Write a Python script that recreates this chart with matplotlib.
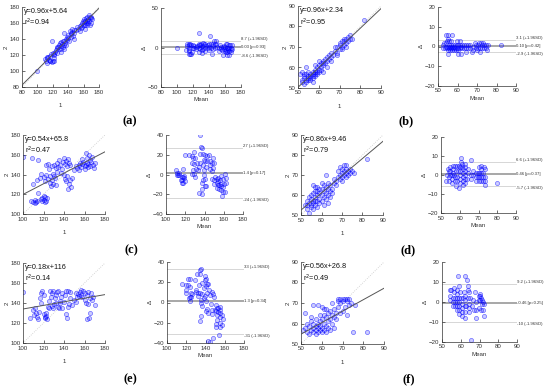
import numpy as np
import matplotlib
matplotlib.use("Agg")
import matplotlib.pyplot as plt

plt.rcParams["font.family"] = ["Liberation Sans", "DejaVu Sans"]

# ---------------- data (method 1, method 2) ----------------
pts_a = [(100,100),(110,115),(111,113),(112,117),(113,116),(114,118),(115,114),(116,119),(117,113),
         (118,121),(119,111),(120,112),(121,113),(119,137),(120,122),(121,120),(122,121),(123,124),
         (124,126),(125,123),(126,129),(127,130),(128,127),(128,133),(129,135),(130,131),(130,128),
         (131,136),(132,134),(133,130),(133,138),(134,148),(134,132),(135,137),(136,135),(137,133),
         (137,140),(138,142),(139,139),(140,145),(140,141),(141,138),(142,150),(143,147),(143,143),
         (144,146),(145,153),(145,149),(146,144),(147,151),(148,148),(150,151),(152,155),(153,152),
         (155,156),(156,154),(157,158),(158,160),(158,155),(159,163),(160,158),(160,161),(161,165),
         (162,157),(162,162),(163,166),(163,160),(164,158),(164,164),(165,162),(165,168),(166,165),
         (166,160),(167,170),(167,163),(168,167),(169,166),(170,168),(170,160),(171,165),(168,158),
         (162,152),(155,150),(148,140),(135,128),(130,124),(125,130),(122,116),(116,113),(113,110)]
pts_b = [(51,57),(52,58),(52,53),(52,54),(53,52),(53,56),(53,55),(54,54),(54,57),(54,53),(55,55),
         (55,56),(55,54),(56,55),(56,57),(56,56),(56,54),(57,56),(57,58),(57,55),(57,57),(58,57),
         (58,59),(58,56),(58,58),(59,58),(59,60),(59,57),(60,59),(60,61),(60,58),(61,60),(61,62),
         (61,59),(62,62),(62,61),(62,63),(63,62),(63,64),(64,63),(64,65),(65,64),(65,66),(66,65),
         (66,67),(67,66),(68,68),(68,70),(69,67),(69,70),(70,69),(70,71),(70,72),(71,70),(71,73),
         (71,69),(72,71),(72,73),(72,74),(73,72),(73,74),(74,73),(74,75),(75,74),(76,74),(75,76),
         (82,83),(60,63),(58,61),(55,58),(54,60),(53,57),(62,58),(64,60),(57,53),(66,63),(69,66),(73,70)]
pts_c = [(100,158),(109,157),(115,155),(108,113),(110,112),(112,111),(113,112),(114,113),(112,114),
         (118,115),(119,116),(120,114),(121,117),(122,113),(120,118),(121,112),(123,116),(119,113),
         (115,121),(110,130),(114,134),(117,136),(118,141),(120,137),(121,133),(122,139),(124,135),
         (126,138),(126,131),(127,128),(128,134),(129,130),(130,138),(129,141),(131,136),(132,129),
         (125,146),(128,149),(130,150),(132,147),(133,152),(134,148),(135,155),(136,150),(138,146),
         (139,153),(140,157),(141,151),(142,154),(143,149),(144,156),(145,152),(146,150),(137,142),
         (133,143),(140,139),(141,135),(142,133),(143,138),(145,130),(146,134),(147,127),(144,125),
         (148,136),(150,145),(152,149),(153,147),(155,150),(156,152),(157,148),(158,151),(159,153),
         (160,149),(160,146),(161,150),(162,152),(162,157),(163,148),(163,151),(164,160),(165,155),
         (165,149),(166,153),(167,158),(168,150),(169,147),(170,152),(161,162),(158,156),(155,145),
         (122,150),(124,151)]
pts_d = [(52,55),(53,53),(53,57),(54,51),(54,56),(54,59),(55,54),(55,58),(55,60),(56,53),(56,57),
         (56,61),(57,55),(57,59),(57,62),(58,54),(58,57),(58,60),(58,64),(59,56),(59,61),(59,58),
         (60,57),(60,60),(60,63),(60,66),(61,55),(61,59),(61,62),(62,58),(62,61),(62,70),(63,56),
         (63,60),(63,63),(64,59),(64,62),(64,65),(65,61),(66,66),(66,68),(67,67),(67,65),(68,69),
         (68,72),(69,70),(69,74),(69,68),(70,71),(70,73),(70,69),(71,72),(71,75),(71,70),(72,71),
         (72,73),(72,69),(73,72),(73,70),(74,71),(74,73),(75,72),(76,71),(82,78),(55,55),(56,56),
         (53,55),(59,63),(61,65),(57,57),(62,64),(58,62),(65,63),(63,66),(70,67),(72,75),(56,65),(57,64)]
pts_e = [(100,151),(107,125),(110,133),(111,128),(112,135),(113,130),(114,126),(115,124),(116,131),
         (117,145),(118,150),(119,152),(120,148),(118,140),(120,129),(121,125),(122,127),(123,124),
         (121,126),(122,130),(124,136),(125,142),(127,146),(128,150),(129,152),(128,137),(129,135),
         (130,139),(131,145),(132,148),(133,151),(134,136),(135,135),(136,140),(137,146),(138,150),
         (138,135),(140,141),(141,148),(142,152),(142,129),(143,125),(144,136),(145,139),(146,145),
         (146,151),(148,138),(150,143),(152,141),(153,146),(154,149),(155,147),(156,151),(157,153),
         (158,146),(159,152),(160,143),(160,150),(161,140),(162,148),(163,151),(163,139),(164,125),
         (165,130),(165,145),(166,150),(167,143),(168,146),(170,138),(162,124),(126,152),(134,152),
         (144,152),(152,150),(157,148),(136,142),(132,140),(125,135)]
pts_f = [(52,65),(51,57),(52,58),(53,56),(54,55),(54,59),(55,57),(55,61),(56,56),(56,58),(56,60),
         (57,55),(57,57),(57,59),(57,62),(58,56),(58,58),(58,60),(58,69),(59,57),(59,59),(59,61),
         (60,56),(60,58),(60,62),(60,68),(61,57),(61,60),(61,64),(62,56),(62,59),(62,63),(62,67),
         (63,58),(63,61),(63,65),(64,57),(64,62),(64,66),(65,60),(65,64),(65,70),(66,63),(66,67),
         (67,65),(67,62),(68,68),(68,71),(68,72),(69,72),(69,70),(70,72),(70,71),(70,66),(71,72),
         (71,68),(72,72),(72,71),(73,72),(73,69),(74,70),(75,56),(82,56),(56,69),(55,63),(53,60),
         (59,64),(61,67),(66,58),(69,65),(72,64),(76,69)]

panel_names = ["(a)", "(b)", "(c)", "(d)", "(e)", "(f)"]
panel_points = [pts_a, pts_b, pts_c, pts_d, pts_e, pts_f]
fit_slope = [0.96, 0.96, 0.54, 0.86, 0.18, 0.56]
fit_intercept = [5.64, 2.34, 65.8, 9.46, 116, 26.8]
fit_text = ["y=0.96x+5.64", "y=0.96x+2.34", "y=0.54x+65.8", "y=0.86x+9.46", "y=0.18x+116", "y=0.56x+26.8"]
r2_text = ["0.94", "0.95", "0.47", "0.79", "0.14", "0.49"]
ba_upper = [8.7, 3.1, 27, 6.6, 33, 9.2]
ba_mean = [0.03, 0.10, 1.4, 0.46, 1.3, -0.46]
ba_lower = [-8.6, -2.9, -24, -5.7, -31, -10]
ba_upper_txt = ["8.7 (+1.96SD)", "3.1 (+1.96SD)", "27 (+1.96SD)", "6.6 (+1.96SD)", "33 (+1.96SD)", "9.2 (+1.96SD)"]
ba_mean_txt = ["0.03 [p=0.93]", "0.10 [p=0.42]", "1.4 [p=0.17]", "0.46 [p=0.37]", "1.3 [p=0.34]", "-0.46 [p=0.25]"]
ba_lower_txt = ["-8.6 (-1.96SD)", "-2.9 (-1.96SD)", "-24 (-1.96SD)", "-5.7 (-1.96SD)", "-31 (-1.96SD)", "-10 (-1.96SD)"]
sc_ticks = [[80,100,120,140,160,180], [50,60,70,80,90], [100,120,140,160,180],
            [50,60,70,80,90], [100,120,140,160,180], [50,60,70,80,90]]
ba_yticks = [[-50,0,50], [-20,-10,0,10,20], [-40,-20,0,20,40],
             [-20,-10,0,10,20], [-40,-20,0,20,40], [-20,-10,0,10,20]]

# ---------------- layout ----------------
W, H = 550, 388
def rect(x0, x1, y0, y1):
    return [x0 / W, 1 - y1 / H, (x1 - x0) / W, (y1 - y0) / H]

sc_rects = [rect(22, 99, 7, 87), rect(298, 381, 6, 88), rect(23, 105, 135, 214),
            rect(301, 383, 135, 215), rect(23, 105, 263, 343), rect(301, 384, 262, 344)]
ba_rects = [rect(161, 241, 8, 87), rect(438, 516, 7, 86), rect(166, 243, 135, 214),
            rect(441, 516, 137, 213), rect(167, 244, 262, 343), rect(442, 517, 262, 342)]
label_pos = [(130, 121), (406, 121), (131, 250), (408, 250), (130, 379), (409, 379)]

fig = plt.figure(figsize=(5.5, 3.88), dpi=100)
fig.patch.set_facecolor("white")

AX_COL = "#333333"
TICK_FS = 4.4
BLUE_FACE = (0, 0, 1, 0.2)
BLUE_EDGE = (0, 0, 1, 0.55)

def style(ax):
    for s in ["top", "right"]:
        ax.spines[s].set_visible(False)
    for s in ["left", "bottom"]:
        ax.spines[s].set_color(AX_COL)
        ax.spines[s].set_linewidth(0.5)
    ax.tick_params(direction="in", length=2, width=0.5, colors=AX_COL,
                   labelsize=TICK_FS, pad=1.8)

for i in range(6):
    pts = np.array(panel_points[i], dtype=float)
    m1, m2 = pts[:, 0], pts[:, 1]
    ticks = sc_ticks[i]
    lo, hi = ticks[0], ticks[-1]

    # scatter / correlation plot
    ax = fig.add_axes(sc_rects[i])
    style(ax)
    ax.plot([lo, hi], [lo, hi], ls=":", color="#c8c8c8", lw=0.6, zorder=1)
    ax.scatter(m1, m2, s=9, facecolors=BLUE_FACE, edgecolors=BLUE_EDGE, linewidths=0.5, zorder=2)
    xx = np.array([lo, hi], dtype=float)
    ax.plot(xx, fit_slope[i] * xx + fit_intercept[i], color="#555555", lw=0.7, zorder=3)
    ax.set_xlim(lo, hi)
    ax.set_ylim(lo, hi)
    ax.set_xticks(ticks)
    ax.set_yticks(ticks)
    ax.set_xlabel("1", fontsize=TICK_FS, color=AX_COL, labelpad=6)
    ax.set_ylabel("2", fontsize=TICK_FS, color=AX_COL, labelpad=0.3)
    ax.text(0.02, 0.985, fit_text[i], transform=ax.transAxes, fontsize=5.2,
            va="top", ha="left", color="#111111")
    ax.text(0.02, 0.875, "r$^2$=" + r2_text[i], transform=ax.transAxes, fontsize=5.2,
            va="top", ha="left", color="#111111")

    # Bland-Altman plot
    bx = fig.add_axes(ba_rects[i])
    style(bx)
    mean = (m1 + m2) / 2
    diff = m2 - m1
    bx.axhline(ba_upper[i], color="#d0d0d0", lw=0.6, zorder=1)
    bx.axhline(ba_lower[i], color="#d0d0d0", lw=0.6, zorder=1)
    bx.axhline(ba_mean[i], color="#a0a0a0", lw=1.3, zorder=1)
    bx.scatter(mean, diff, s=9, facecolors=BLUE_FACE, edgecolors=BLUE_EDGE, linewidths=0.5, zorder=2)
    bx.set_xlim(lo, hi)
    yt = ba_yticks[i]
    bx.set_ylim(yt[0], yt[-1])
    bx.set_xticks(ticks)
    bx.set_yticks(yt)
    bx.set_xlabel("Mean", fontsize=TICK_FS, color=AX_COL, labelpad=2)
    bx.set_ylabel("\u0394", fontsize=TICK_FS, color=AX_COL, labelpad=0.8)
    TFS = 3.1
    bx.text(hi, ba_upper[i], ba_upper_txt[i], fontsize=TFS, va="bottom", ha="left",
            color="#333333", clip_on=False)
    bx.text(hi, ba_mean[i], ba_mean_txt[i], fontsize=TFS, va="center", ha="left",
            color="#333333", clip_on=False)
    bx.text(hi, ba_lower[i], ba_lower_txt[i], fontsize=TFS, va="top", ha="left",
            color="#333333", clip_on=False)

    lx, ly = label_pos[i]
    fig.text(lx / W, 1 - ly / H, panel_names[i], fontsize=9, fontweight="bold",
             family="Liberation Serif", ha="center", va="center")

fig.savefig("out.png", dpi=100, facecolor="white")
